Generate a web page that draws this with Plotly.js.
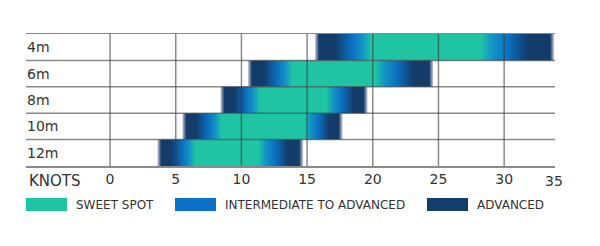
<!DOCTYPE html>
<html><head><meta charset="utf-8">
<script src="https://cdn.plot.ly/plotly-3.0.1.min.js"></script>
<style>html,body{margin:0;padding:0;background:#fff}#chart{width:600px;height:246px}</style>
</head><body><div id="chart"></div>
<script>
// ---- data (knots) ----
const kites       = ['4m', '6m', '8m', '10m', '12m'];
const rangeStart  = [15.6, 10.5, 8.4, 5.5, 3.6];
const sweetStart  = [19.9, 13.9, 11.4, 8.5, 6.5];
const sweetEnd    = [28.2, 20.2, 16.5, 14.8, 11.3];
const rangeEnd    = [33.8, 24.6, 19.6, 17.7, 14.7];
const knotTicks   = [0, 5, 10, 15, 20, 25, 30];
const knotLabels  = ['0', '5', '10', '15', '20', '25', '30'];
const axisTitle   = 'KNOTS';
const lastKnotLabel = '35';
const legendNames = ['SWEET SPOT', 'INTERMEDIATE TO ADVANCED', 'ADVANCED'];

// ---- style ----
const TEAL = '#1fc5a2', CYAN = '#1396c6', BLUE = '#0b6fc0', NAVY = '#133c6b', EDGE = '#cfcfd8';
const legendColors = [TEAL, '#0a71c6', '#123e6b'];
const GRID = 'rgba(60,60,60,0.6)';
const TXT = '#333333';
const FONT = 'DejaVu Sans, sans-serif';
const W = 600, H = 246, M = {l: 26, r: 45, t: 34, b: 80};
const PW = W - M.l - M.r, PH = H - M.t - M.b;
const px2x = px => (px - M.l) / PW;
const py2y = py => (H - M.b - py) / PH;

function gradientFor(i) {
  const s = rangeStart[i], e = rangeEnd[i], a = sweetStart[i], b = sweetEnd[i];
  const L = e - s, f = v => (v - s) / L;
  const fade = 0.3, left = a - s, right = e - b;
  return [
    [0, EDGE],
    [f(s + fade), NAVY],
    [f(s + left * 0.35), NAVY],
    [f(s + left * 0.65), BLUE],
    [f(s + left * 0.85), CYAN],
    [f(a), TEAL],
    [f(b), TEAL],
    [f(b + right * 0.15), CYAN],
    [f(b + right * 0.38), BLUE],
    [f(b + right * 0.65), NAVY],
    [f(e - fade), NAVY],
    [1, EDGE]
  ];
}

const traces = kites.map((k, i) => ({
  type: 'scatter', mode: 'lines', name: k,
  x: [rangeStart[i], rangeEnd[i], rangeEnd[i], rangeStart[i], rangeStart[i]],
  y: [i - 0.5, i - 0.5, i + 0.5, i + 0.5, i - 0.5],
  fill: 'toself', line: {width: 0},
  fillgradient: {type: 'horizontal', colorscale: gradientFor(i)},
  showlegend: false, hoverinfo: 'skip'
}));

const shapes = [];
knotTicks.forEach(t => shapes.push({type: 'line', xref: 'x', yref: 'paper', x0: t, x1: t, y0: 0, y1: 1,
  line: {color: GRID, width: 1.5}, layer: 'above'}));
kites.slice(1).forEach((k, i) => shapes.push({type: 'line', xref: 'paper', yref: 'y', x0: 0, x1: 1, y0: i + 0.5, y1: i + 0.5,
  line: {color: GRID, width: 1.5}, layer: 'above'}));

const annotations = [
  {text: axisTitle, xref: 'paper', yref: 'paper', x: px2x(27), y: py2y(181), xanchor: 'left', yanchor: 'middle',
   showarrow: false, font: {family: FONT, size: 15, color: TXT}},
  {text: lastKnotLabel, xref: 'paper', yref: 'paper', x: px2x(554), y: py2y(181), xanchor: 'center', yanchor: 'middle',
   showarrow: false, font: {family: FONT, size: 14, color: TXT}}
];
const legendX = [26, 175, 427];
legendNames.forEach((n, i) => {
  shapes.push({type: 'rect', xref: 'paper', yref: 'paper', x0: px2x(legendX[i]), x1: px2x(legendX[i] + 41),
    y0: py2y(211), y1: py2y(198), fillcolor: legendColors[i], line: {width: 0}, layer: 'above'});
  annotations.push({text: n, xref: 'paper', yref: 'paper', x: px2x(legendX[i] + 48), y: py2y(204.5),
    xanchor: 'left', yanchor: 'middle', showarrow: false, font: {family: FONT, size: 12, color: TXT}});
});

const layout = {
  width: W, height: H, margin: M, paper_bgcolor: '#fff', plot_bgcolor: '#fff',
  font: {family: FONT, color: TXT},
  showlegend: false,
  xaxis: {range: [-6.4, 33.87], tickvals: knotTicks, ticktext: knotLabels, showgrid: false, zeroline: false,
    ticks: '', showline: true, mirror: true, linecolor: '#8a8a8a', linewidth: 1.5,
    tickfont: {family: FONT, size: 14, color: TXT}, fixedrange: true},
  yaxis: {range: [4.5, -0.5], tickvals: kites.map((k, i) => i), ticktext: kites, ticklabelposition: 'inside',
    ticklabelstandoff: -2,
    showgrid: false, zeroline: false, ticks: '', showline: false,
    tickfont: {family: FONT, size: 14, color: TXT}, fixedrange: true},
  shapes: shapes, annotations: annotations
};
Plotly.newPlot('chart', traces, layout, {displayModeBar: false, staticPlot: true});
</script></body></html>
